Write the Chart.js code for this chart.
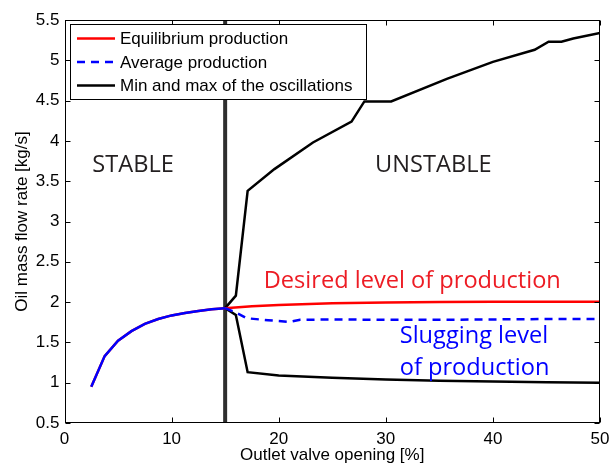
<!DOCTYPE html>
<html><head><meta charset="utf-8">
<script src="https://cdn.jsdelivr.net/npm/chart.js@4"></script>
<style>html,body{margin:0;padding:0;background:#fff;overflow:hidden}#wrap{width:611px;height:464px}</style>
</head><body><div id="wrap"><canvas id="c" width="611" height="464"></canvas></div>
<script>
// ---- data ----
const eqX = [2.5, 3.75, 5, 6.25, 7.5, 8.75, 10, 11.25, 12.5, 13.75, 15, 17.5, 20, 25, 30, 35, 40, 45, 50];
const eqY = [0.95, 1.33, 1.52, 1.64, 1.73, 1.79, 1.835, 1.865, 1.89, 1.91, 1.925, 1.95, 1.965, 1.985, 1.995, 2.0, 2.005, 2.005, 2.005];

const avgX = [2.5, 3.75, 5, 6.25, 7.5, 8.75, 10, 11.25, 12.5, 13.75, 15, 16, 17, 19, 21, 22, 25, 30, 35, 40, 45, 50];
const avgY = [0.95, 1.33, 1.52, 1.64, 1.73, 1.79, 1.835, 1.865, 1.89, 1.91, 1.925, 1.87, 1.80, 1.775, 1.755, 1.78, 1.785, 1.78, 1.78, 1.785, 1.79, 1.79];

const maxX = [15, 16, 17.1, 19.6, 23.2, 26.8, 28, 30.5, 35.7, 40, 43.9, 45.2, 46.4, 47.5, 50];
const maxY = [1.925, 2.08, 3.38, 3.65, 3.98, 4.24, 4.49, 4.49, 4.77, 4.98, 5.13, 5.23, 5.23, 5.27, 5.34];

const minX = [15, 16, 17.1, 20, 25, 30, 35, 40, 45, 50];
const minY = [1.925, 1.84, 1.13, 1.09, 1.06, 1.04, 1.025, 1.015, 1.005, 1.0];

const boundaryX = [15, 15];
const boundaryY = [0.5, 5.5];

const seriesNames = ['Equilibrium production', 'Average production', 'Min and max of the oscillations'];
const xTicks = [0, 10, 20, 30, 40, 50];
const yTicks = [0.5, 1, 1.5, 2, 2.5, 3, 3.5, 4, 4.5, 5, 5.5];
const xTitle = 'Outlet valve opening [%]';
const yTitle = 'Oil mass flow rate [kg/s]';

const notes = [
  {text: 'STABLE', x: 2.6, y: 3.61, color: '#231f20'},
  {text: 'UNSTABLE', x: 29.0, y: 3.61, color: '#231f20'},
  {text: 'Desired level of production', x: 18.6, y: 2.175, color: '#ed1c24'},
  {text: 'Slugging level', x: 31.3, y: 1.49, color: '#0000ff'},
  {text: 'of production', x: 31.3, y: 1.10, color: '#0000ff'}
];

const pts = (xs, ys) => xs.map((x, i) => ({x, y: ys[i]}));
const FONT = "'Liberation Sans', Arial, sans-serif";

const datasets = [
  {label: seriesNames[0], data: pts(eqX, eqY), borderColor: '#ff0000', borderWidth: 2.5, order: 2},
  {label: seriesNames[1], data: pts(avgX, avgY), borderColor: '#0000ff', borderWidth: 2.5, order: 1,
   legendDash: [8, 6],
   segment: {borderDash: c => c.p0.parsed.x >= 15 ? [8, 6] : undefined}},
  {label: seriesNames[2], data: pts(maxX, maxY), borderColor: '#000000', borderWidth: 2.5, order: 3},
  {label: '', data: pts(minX, minY), borderColor: '#000000', borderWidth: 2.5, order: 3},
  {label: '', data: pts(boundaryX, boundaryY), borderColor: '#2e2e2e', borderWidth: 4, order: 4}
];
datasets.forEach(d => { d.pointRadius = 0; d.fill = false; d.tension = 0; d.borderCapStyle = 'butt'; });

const framePlugin = {
  id: 'frame',
  afterDatasetsDraw(chart) {
    const {ctx, chartArea: a, scales: {x, y}} = chart;
    ctx.save();
    // annotations
    ctx.textAlign = 'left';
    ctx.textBaseline = 'alphabetic';
    ctx.font = "23.6px 'Open Sans', sans-serif";
    notes.forEach(n => {
      ctx.fillStyle = n.color;
      ctx.fillText(n.text, x.getPixelForValue(n.x), y.getPixelForValue(n.y));
    });
    // axes box + inward ticks
    ctx.strokeStyle = '#000';
    ctx.lineWidth = 1;
    const L = Math.round(a.left) + 0.5, R = Math.round(a.right) - 0.5;
    const T = Math.round(a.top) + 0.5, B = Math.round(a.bottom) - 0.5;
    ctx.strokeRect(L, T, R - L, B - T);
    ctx.beginPath();
    xTicks.forEach(v => {
      const px = Math.round(x.getPixelForValue(v)) + 0.5;
      ctx.moveTo(px, B); ctx.lineTo(px, B - 5);
      ctx.moveTo(px, T); ctx.lineTo(px, T + 5);
    });
    yTicks.forEach(v => {
      const py = Math.round(y.getPixelForValue(v)) + 0.5;
      ctx.moveTo(L, py); ctx.lineTo(L + 5, py);
      ctx.moveTo(R, py); ctx.lineTo(R - 5, py);
    });
    ctx.stroke();
    // legend
    const items = chart.data.datasets.filter(d => d.label);
    const lx = 70.5, ly = 24.5, lw = 296, lh = 75;
    ctx.fillStyle = '#fff';
    ctx.fillRect(lx, ly, lw, lh);
    ctx.strokeRect(lx, ly, lw, lh);
    ctx.font = '17px ' + FONT;
    ctx.textBaseline = 'middle';
    items.forEach((d, i) => {
      const ry = 38.5 + i * 23.5;
      ctx.save();
      ctx.strokeStyle = d.borderColor;
      ctx.lineWidth = d.borderWidth;
      ctx.setLineDash(d.legendDash || []);
      ctx.beginPath(); ctx.moveTo(77, ry); ctx.lineTo(115, ry); ctx.stroke();
      ctx.restore();
      ctx.fillStyle = '#000';
      ctx.fillText(d.label, 120, ry + 1);
    });
    ctx.restore();
  }
};

new Chart(document.getElementById('c'), {
  type: 'line',
  data: {datasets},
  options: {
    responsive: false,
    animation: false,
    devicePixelRatio: 1,
    layout: {padding: {left: 0, top: 20, right: 11, bottom: 0}},
    plugins: {legend: {display: false}, tooltip: {enabled: false}},
    scales: {
      x: {
        type: 'linear', min: 0, max: 50,
        afterBuildTicks: s => { s.ticks = xTicks.map(v => ({value: v})); },
        afterFit: s => { s.height = 41; s.paddingLeft = 0; s.paddingRight = 0; },
        grid: {display: false, drawTicks: false},
        border: {display: false},
        ticks: {font: {size: 17, family: FONT}, color: '#000', padding: 6, maxRotation: 0, callback: v => String(v)},
        title: {display: true, text: xTitle, color: '#000', font: {size: 17, family: FONT, lineHeight: 1}, padding: 0}
      },
      y: {
        type: 'linear', min: 0.5, max: 5.5,
        afterBuildTicks: s => { s.ticks = yTicks.map(v => ({value: v})); },
        afterFit: s => { s.width = 64.5; s.paddingTop = 0; s.paddingBottom = 0; },
        grid: {display: false, drawTicks: false},
        border: {display: false},
        ticks: {font: {size: 17, family: FONT}, color: '#000', padding: 5, callback: v => String(v)},
        title: {display: true, text: yTitle, color: '#000', font: {size: 17, family: FONT, lineHeight: 1}, padding: {top: 14, bottom: 0}}
      }
    }
  },
  plugins: [framePlugin]
});
</script>
</body></html>
